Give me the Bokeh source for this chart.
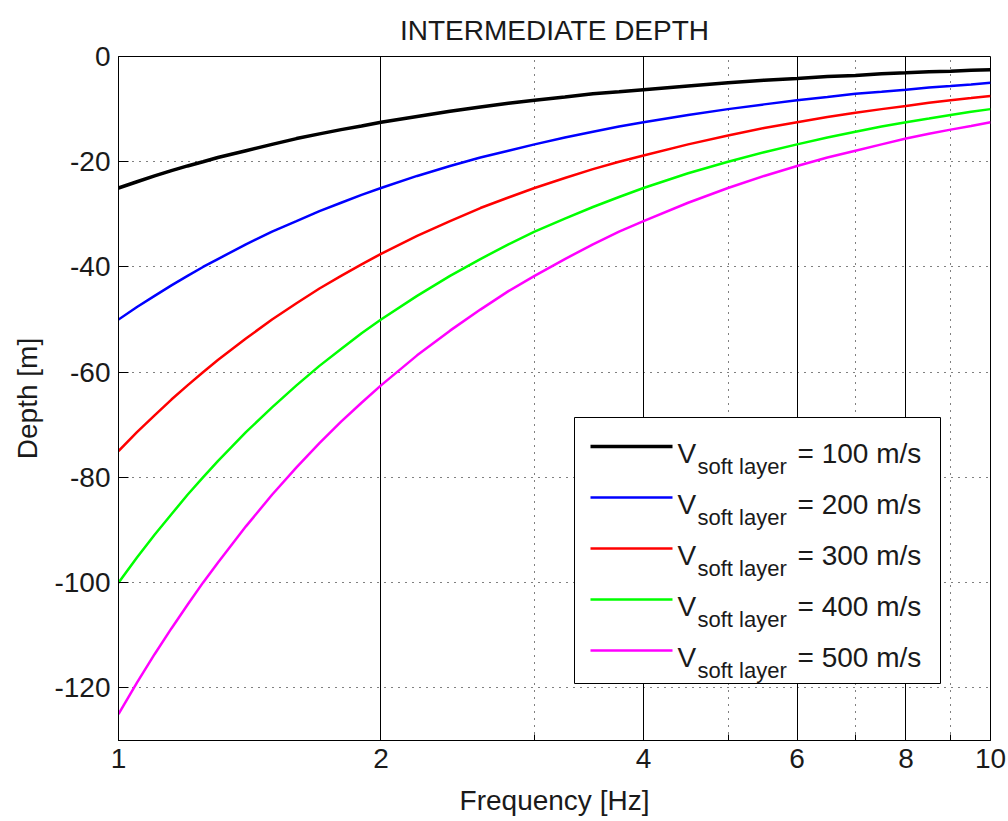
from math import log10
from bokeh.plotting import figure
from bokeh.models import FixedTicker, Range1d
from bokeh.core.properties import value
from bokeh.embed import file_html
from bokeh.resources import INLINE

# ---- data ----
freq = [1, 1.05, 1.1, 1.15, 1.2, 1.25, 1.3, 1.4, 1.5, 1.6, 1.7, 1.8, 1.9, 2, 2.2, 2.4, 2.6, 2.8,
        3, 3.25, 3.5, 3.75, 4, 4.5, 5, 5.5, 6, 6.5, 7, 7.5, 8, 8.5, 9, 9.5, 10]
depth_100 = [-25, -23.8, -22.7, -21.7, -20.8, -20, -19.2, -17.9, -16.7, -15.6, -14.7, -13.9, -13.2, -12.5,
             -11.4, -10.4, -9.6, -8.9, -8.3, -7.7, -7.1, -6.7, -6.3, -5.6, -5, -4.5, -4.2, -3.8, -3.6,
             -3.3, -3.1, -2.9, -2.8, -2.6, -2.5]
depth_200 = [-50, -47.6, -45.5, -43.5, -41.7, -40, -38.5, -35.7, -33.3, -31.3, -29.4, -27.8, -26.3, -25,
             -22.7, -20.8, -19.2, -17.9, -16.7, -15.4, -14.3, -13.3, -12.5, -11.1, -10, -9.1, -8.3, -7.7,
             -7.1, -6.7, -6.3, -5.9, -5.6, -5.3, -5]
depth_300 = [-75, -71.4, -68.2, -65.2, -62.5, -60, -57.7, -53.6, -50, -46.9, -44.1, -41.7, -39.5, -37.5,
             -34.1, -31.3, -28.8, -26.8, -25, -23.1, -21.4, -20, -18.8, -16.7, -15, -13.6, -12.5, -11.5,
             -10.7, -10, -9.4, -8.8, -8.3, -7.9, -7.5]
depth_400 = [-100, -95.2, -90.9, -87, -83.3, -80, -76.9, -71.4, -66.7, -62.5, -58.8, -55.6, -52.6, -50,
             -45.5, -41.7, -38.5, -35.7, -33.3, -30.8, -28.6, -26.7, -25, -22.2, -20, -18.2, -16.7, -15.4,
             -14.3, -13.3, -12.5, -11.8, -11.1, -10.5, -10]
depth_500 = [-125, -119, -113.6, -108.7, -104.2, -100, -96.2, -89.3, -83.3, -78.1, -73.5, -69.4, -65.8,
             -62.5, -56.8, -52.1, -48.1, -44.6, -41.7, -38.5, -35.7, -33.3, -31.3, -27.8, -25, -22.7,
             -20.8, -19.2, -17.9, -16.7, -15.6, -14.7, -13.9, -13.2, -12.5]
speeds = [100, 200, 300, 400, 500]
series = [depth_100, depth_200, depth_300, depth_400, depth_500]
colors = ["#000000", "#0000ff", "#ff0000", "#00ff00", "#ff00ff"]
widths = [3.5, 2.5, 2.5, 2.5, 2.5]

x_ticks = [1, 2, 4, 6, 8, 10]
x_minor = [3, 5, 7, 9]
y_ticks = [0, -20, -40, -60, -80, -100, -120]
X_MIN, X_MAX = 1, 10
Y_MIN, Y_MAX = -130, 0
TITLE = "INTERMEDIATE DEPTH"

FONT = "Liberation Sans"
TXT = "#1a1a1a"

# ---- frame geometry (pixels) ----
W, H = 1008, 821
FL, FR, FT, FB = 118, 990, 56, 740

def px_x(px):
    t = (px - FL) / (FR - FL)
    return 10 ** (log10(X_MIN) + t * (log10(X_MAX) - log10(X_MIN)))

def px_y(py):
    t = (py - FT) / (FB - FT)
    return Y_MAX + t * (Y_MIN - Y_MAX)

p = figure(width=W, height=H, x_axis_type="log",
           x_range=Range1d(X_MIN, X_MAX), y_range=Range1d(Y_MIN, Y_MAX),
           output_backend="svg", toolbar_location=None,
           min_border_left=FL, min_border_right=W - FR,
           min_border_top=FT, min_border_bottom=H - FB,
           title=TITLE)
p.background_fill_color = "white"
p.border_fill_color = "white"
p.outline_line_color = "black"
p.outline_line_width = 1
p.outline_line_alpha = 1

p.title.text_font = FONT
p.title.text_font_size = "28px"
p.title.text_font_style = "normal"
p.title.text_color = TXT
p.title.align = "center"
p.title.text_line_height = 0.6
p.title.standoff = 22

# axes
p.xaxis.ticker = FixedTicker(ticks=x_ticks, minor_ticks=x_minor)
p.xaxis.major_label_overrides = {t: str(t) for t in x_ticks}
p.yaxis.ticker = FixedTicker(ticks=y_ticks, minor_ticks=[])
p.yaxis.major_label_overrides = {t: str(t) for t in y_ticks}
p.xaxis.axis_label = "Frequency [Hz]"
p.yaxis.axis_label = "Depth [m]"
for ax in (p.xaxis, p.yaxis):
    ax.axis_label_text_font = FONT
    ax.axis_label_text_font_size = "28px"
    ax.axis_label_text_font_style = "normal"
    ax.axis_label_text_color = TXT
    ax.major_label_text_font = FONT
    ax.major_label_text_font_size = "28px"
    ax.major_label_text_color = TXT
    ax.axis_line_color = "black"
    ax.major_tick_line_color = "black"
    ax.minor_tick_line_color = "black"
    ax.major_tick_in = 10
    ax.major_tick_out = 0
    ax.minor_tick_in = 6
    ax.minor_tick_out = 0
p.xaxis.major_label_standoff = 8
p.xaxis.axis_label_standoff = 14
p.yaxis.major_label_standoff = 8
p.yaxis.axis_label_standoff = 8

# grids
p.xgrid.grid_line_color = "black"
p.xgrid.grid_line_alpha = 1
p.xgrid.grid_line_width = 1
p.xgrid.minor_grid_line_color = "black"
p.xgrid.minor_grid_line_dash = "1 6"
p.ygrid.grid_line_color = "black"
p.ygrid.grid_line_alpha = 1
p.ygrid.grid_line_dash = "1 6"

# curves
for d, c, w in zip(series, colors, widths):
    p.line(freq, d, line_color=c, line_width=w)

# ---- custom legend (with subscript) ----
LEG_L, LEG_R, LEG_T, LEG_B = 574, 940, 417, 683
p.quad(left=[px_x(LEG_L)], right=[px_x(LEG_R)], top=[px_y(LEG_T)], bottom=[px_y(LEG_B)],
       fill_color="white", line_color="black", line_width=1)
row0, row_step = 446, 51
rows = [row0 + i * row_step for i in range(len(speeds))]
p.segment(x0=[px_x(590)] * len(rows), x1=[px_x(672)] * len(rows),
          y0=[px_y(r) for r in rows], y1=[px_y(r) for r in rows],
          line_color=colors, line_width=widths)
p.text(x=[px_x(677)] * len(rows), y=[px_y(r + 7) for r in rows], text=["V"] * len(rows),
       text_font=value(FONT), text_font_size="28px", text_color=TXT,
       text_baseline="alphabetic", text_align="left")
p.text(x=[px_x(697)] * len(rows), y=[px_y(r + 20) for r in rows], text=["soft layer"] * len(rows),
       text_font=value(FONT), text_font_size="22px", text_color=TXT,
       text_baseline="alphabetic", text_align="left")
p.text(x=[px_x(797)] * len(rows), y=[px_y(r + 7) for r in rows],
       text=["= %d m/s" % s for s in speeds],
       text_font=value(FONT), text_font_size="28px", text_color=TXT,
       text_baseline="alphabetic", text_align="left")

open("out.html", "w").write(file_html(p, INLINE))
